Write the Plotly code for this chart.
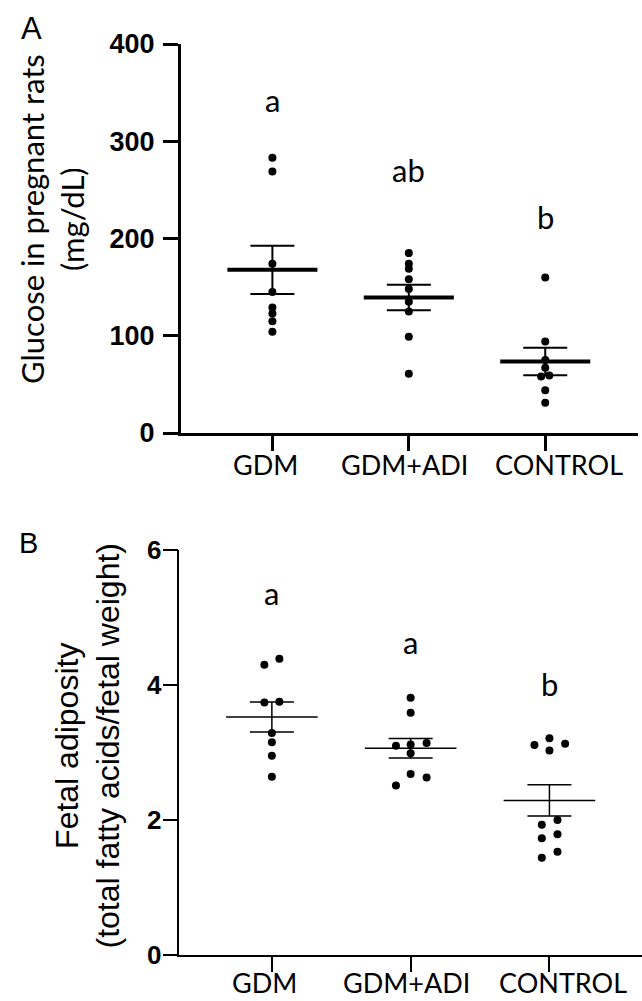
import numpy as np
import plotly.graph_objects as go

# ---------------- data ----------------
groups = ["GDM", "GDM+ADI", "CONTROL"]

# Panel A: maternal glucose (mg/dL)
glucose_gdm = [283, 269, 174, 145, 129, 123, 115, 104]
glucose_gdm_adi = [185, 174, 169, 158, 148, 135, 125, 99, 61]
glucose_control = [160, 94, 75, 67, 58, 59, 44, 31]
glucose_jitter_gdm = [0, 0, 0, 0, 0, 0, 0, 0]
glucose_jitter_gdm_adi = [0, 0, 0, 0, 0, 0, 0, 0, 0]
glucose_jitter_control = [0, 0, 0, 0, -0.03, 0.03, 0, 0]
glucose_letters = ["a", "ab", "b"]
glucose_letter_y = [342, 270, 222]
glucose_ticks = [0, 100, 200, 300, 400]

# Panel B: fetal adiposity (total fatty acids / fetal weight)
adip_gdm = [4.30, 4.39, 3.74, 3.75, 3.29, 3.15, 2.95, 2.64]
adip_gdm_adi = [3.81, 3.59, 3.10, 3.12, 3.14, 2.99, 2.68, 2.63, 2.51]
adip_control = [3.11, 3.21, 3.13, 3.03, 2.00, 1.93, 1.79, 1.73, 1.53, 1.44]
adip_jitter_gdm = [-0.054, 0.054, -0.054, 0.054, 0, 0, 0, 0]
adip_jitter_gdm_adi = [0, 0, -0.106, 0, 0.115, 0, 0, 0.115, -0.106]
adip_jitter_control = [-0.108, 0, 0.113, 0, 0.058, -0.055, 0.058, -0.055, 0.058, -0.055]
adip_letters = ["a", "a", "b"]
adip_letter_y = [5.36, 4.63, 4.02]
adip_ticks = [0, 2, 4, 6]

# small horizontal offsets (px) of the category labels relative to their ticks
label_shift = [-7, -4, 14]

W, H = 642, 1001
fig = go.Figure()


def px_x(p):
    return p / W


def px_y(p):
    return 1 - p / H


def add_panel(values, jitters, xa, ya, mean_w, err_w, cap_hw):
    for i, (vals, jit) in enumerate(zip(values, jitters)):
        v = np.array(vals, dtype=float)
        m = v.mean()
        sem = v.std(ddof=1) / np.sqrt(len(v))
        # points
        fig.add_trace(go.Scatter(
            x=[i + j for j in jit], y=v, mode="markers",
            marker=dict(color="black", size=8, line=dict(width=0)),
            xaxis=xa, yaxis=ya, showlegend=False, hoverinfo="y"))
        # SEM bar
        fig.add_trace(go.Scatter(
            x=[i], y=[m], mode="markers",
            marker=dict(size=0.1, color="rgba(0,0,0,0)"),
            error_y=dict(type="constant", value=sem, color="black",
                         thickness=err_w, width=cap_hw),
            xaxis=xa, yaxis=ya, showlegend=False, hoverinfo="skip"))
        # mean line
        fig.add_trace(go.Scatter(
            x=[i - 0.33, i + 0.33], y=[m, m], mode="lines",
            line=dict(color="black", width=mean_w),
            xaxis=xa, yaxis=ya, showlegend=False, hoverinfo="skip"))


add_panel([glucose_gdm, glucose_gdm_adi, glucose_control],
          [glucose_jitter_gdm, glucose_jitter_gdm_adi, glucose_jitter_control],
          "x", "y", 4, 2, 22)
add_panel([adip_gdm, adip_gdm_adi, adip_control],
          [adip_jitter_gdm, adip_jitter_gdm_adi, adip_jitter_control],
          "x2", "y2", 1.5, 1.5, 22)

cat_font = dict(family="Lato", size=27, color="black")

fig.update_layout(
    width=W, height=H,
    margin=dict(l=0, r=0, t=0, b=0),
    paper_bgcolor="white", plot_bgcolor="white",
    showlegend=False,
    xaxis=dict(domain=[px_x(181), px_x(638)], range=[-0.67, 2.68],
               tickvals=[0, 1, 2], showticklabels=False,
               showline=True, linecolor="black", linewidth=3,
               ticks="outside", ticklen=15, tickwidth=3, tickcolor="black",
               showgrid=False, zeroline=False, automargin=False,
               anchor="y"),
    yaxis=dict(domain=[px_y(433), px_y(44)], range=[0, 400],
               tickvals=glucose_ticks,
               tickfont=dict(family="Liberation Sans", size=27, color="black", weight="bold"),
               showline=True, linecolor="black", linewidth=3,
               ticks="outside", ticklen=15, tickwidth=3, tickcolor="black",
               ticklabelstandoff=3,
               showgrid=False, zeroline=False, automargin=False,
               anchor="x"),
    xaxis2=dict(domain=[px_x(179.3), 1.0], range=[-0.667, 2.667],
                tickvals=[0, 1, 2], showticklabels=False,
                showline=True, linecolor="black", linewidth=1.5,
                ticks="outside", ticklen=15, tickwidth=1.5, tickcolor="black",
                showgrid=False, zeroline=False, automargin=False,
                anchor="y2"),
    yaxis2=dict(domain=[px_y(955), px_y(550)], range=[0, 6],
                tickvals=adip_ticks,
                tickfont=dict(family="Liberation Sans", size=26, color="black", weight="bold"),
                showline=True, linecolor="black", linewidth=1.5,
                ticks="outside", ticklen=15, tickwidth=1.5, tickcolor="black",
                ticklabelstandoff=-4,
                showgrid=False, zeroline=False, automargin=False,
                anchor="x2"),
)

annotations = []
# category labels under each axis
for i, (g, s) in enumerate(zip(groups, label_shift)):
    annotations.append(dict(x=i, y=px_y(465), xref="x", yref="paper", text=g,
                            showarrow=False, font=cat_font, xshift=s,
                            xanchor="center", yanchor="middle"))
    annotations.append(dict(x=i, y=0, xref="x2", yref="paper", text=g,
                            showarrow=False, font=cat_font, xshift=s,
                            xanchor="center", yanchor="bottom"))

for i, (t, yv) in enumerate(zip(glucose_letters, glucose_letter_y)):
    annotations.append(dict(x=i, y=yv, xref="x", yref="y", text=t, showarrow=False,
                            font=dict(family="Lato", size=31, color="black"),
                            xanchor="center", yanchor="middle"))
for i, (t, yv) in enumerate(zip(adip_letters, adip_letter_y)):
    annotations.append(dict(x=i, y=yv, xref="x2", yref="y2", text=t, showarrow=False,
                            font=dict(family="Lato", size=31, color="black"),
                            xanchor="center", yanchor="middle"))

# panel letters
annotations.append(dict(x=px_x(31), y=px_y(28), xref="paper", yref="paper", text="A",
                        showarrow=False, font=dict(family="Liberation Sans", size=31, color="black"),
                        xanchor="center", yanchor="middle"))
annotations.append(dict(x=px_x(28), y=px_y(543), xref="paper", yref="paper", text="B",
                        showarrow=False, font=dict(family="Liberation Sans", size=29, color="black"),
                        xanchor="center", yanchor="middle"))
# axis titles
annotations.append(dict(x=px_x(52), y=px_y(219), xref="paper", yref="paper",
                        text="Glucose in pregnant rats<br>(mg/dL)", textangle=-90,
                        showarrow=False, font=dict(family="Lato", size=31, color="black"),
                        xanchor="center", yanchor="middle"))
annotations.append(dict(x=px_x(87.5), y=px_y(745), xref="paper", yref="paper",
                        text="Fetal adiposity<br>(total fatty acids/fetal weight)", textangle=-90,
                        showarrow=False, font=dict(family="Liberation Sans", size=32, color="black"),
                        xanchor="center", yanchor="middle"))
fig.update_layout(annotations=annotations)

fig.write_html("out.html", config={"displayModeBar": False},
               post_script="document.body.style.margin='0';document.body.style.padding='0';")
